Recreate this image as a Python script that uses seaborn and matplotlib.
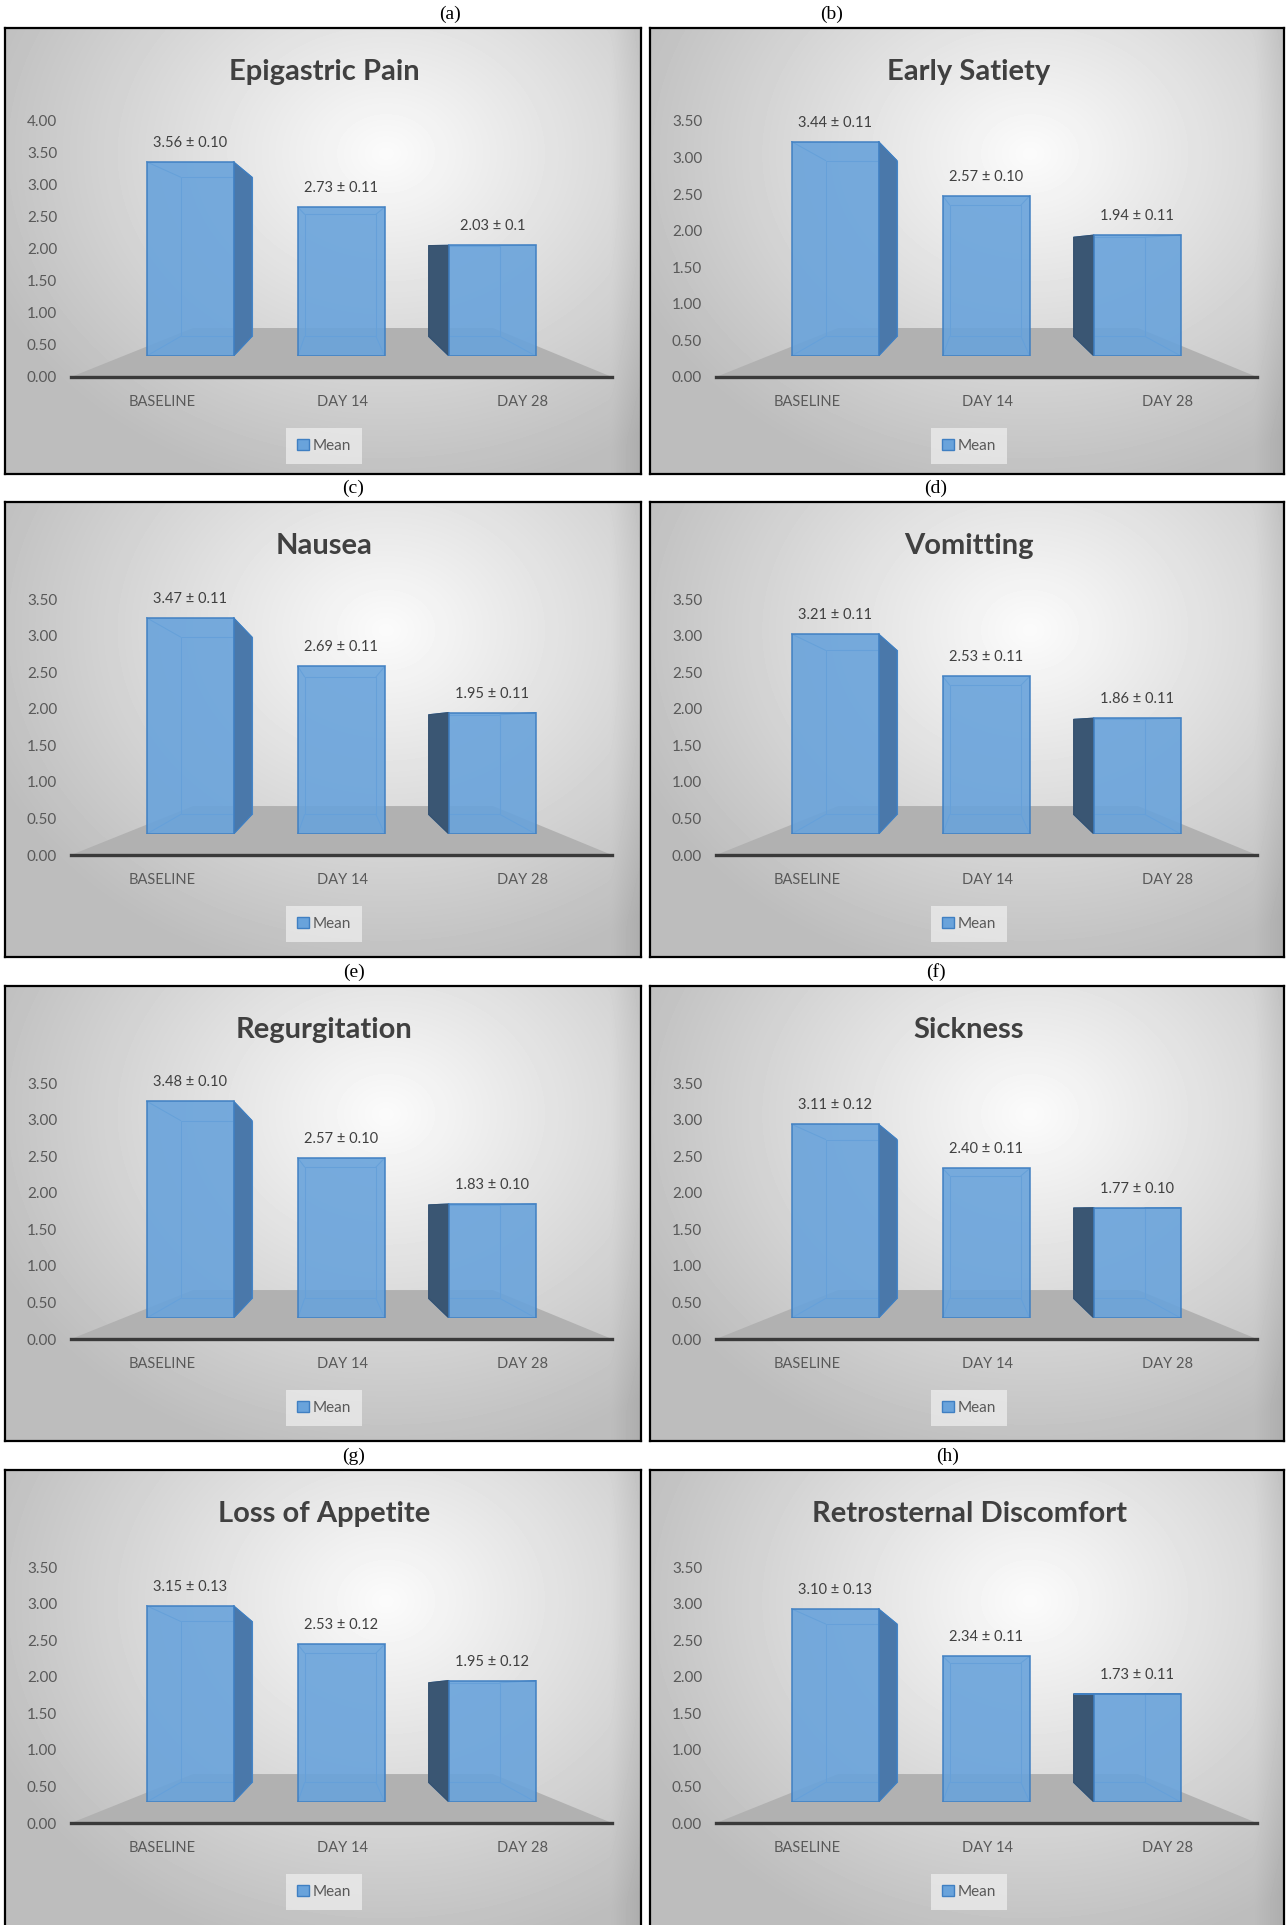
import numpy as np
import matplotlib
matplotlib.use("Agg")
import matplotlib.pyplot as plt
import seaborn as sns
from matplotlib.patches import Polygon, Patch

sns.set_theme(style="white")
plt.rcParams["font.family"] = ["Lato", "DejaVu Sans"]

# data
categories = ["BASELINE", "DAY 14", "DAY 28"]
panel_tags = ["(a)", "(b)", "(c)", "(d)", "(e)", "(f)", "(g)", "(h)"]
titles = ["Epigastric Pain", "Early Satiety", "Nausea", "Vomitting",
          "Regurgitation", "Sickness", "Loss of Appetite", "Retrosternal Discomfort"]

epigastric_pain = [3.56, 2.73, 2.03]
early_satiety = [3.44, 2.57, 1.94]
nausea = [3.47, 2.69, 1.95]
vomitting = [3.21, 2.53, 1.86]
regurgitation = [3.48, 2.57, 1.83]
sickness = [3.11, 2.40, 1.77]
loss_of_appetite = [3.15, 2.53, 1.95]
retrosternal = [3.10, 2.34, 1.73]

epigastric_pain_se = ["0.10", "0.11", "0.1"]
early_satiety_se = ["0.11", "0.10", "0.11"]
nausea_se = ["0.11", "0.11", "0.11"]
vomitting_se = ["0.11", "0.11", "0.11"]
regurgitation_se = ["0.10", "0.10", "0.10"]
sickness_se = ["0.12", "0.11", "0.10"]
loss_of_appetite_se = ["0.13", "0.12", "0.12"]
retrosternal_se = ["0.13", "0.11", "0.11"]

y_max = [4.0, 3.5, 3.5, 3.5, 3.5, 3.5, 3.5, 3.5]

means = [epigastric_pain, early_satiety, nausea, vomitting,
         regurgitation, sickness, loss_of_appetite, retrosternal]
sems = [epigastric_pain_se, early_satiety_se, nausea_se, vomitting_se,
        regurgitation_se, sickness_se, loss_of_appetite_se, retrosternal_se]

# page layout in pixels (top-left origin)
FW, FH = 1286, 1925
col_left = [5, 650]
col_width = [636, 634]
row_top = [28, 502, 986, 1470]
row_height = [446, 455, 455, 455]
tag_x = [[450, 832], [353, 936], [354, 936], [354, 948]]

BAR_COL = "#69a3db"
BAR_EDGE = "#3f7fc2"
INNER_COL = "#4f8dcc"
SIDE_RIGHT = "#4a78aa"
SIDE_LEFT = "#3a5673"
TEXT_COL = "#404040"
TICK_COL = "#595959"


def frect(x0, y0, x1, y1):
    return [x0 / FW, 1 - y1 / FH, (x1 - x0) / FW, (y1 - y0) / FH]


def draw_panel(fig, L, T, W, H, title, vals, se, ymax, extra=0):
    axis0 = T + 349 + 0.45 * (H - 446)

    # background with radial gradient and frame
    bg = fig.add_axes(frect(L, T, L + W, T + H + extra), zorder=0)
    yy, xx = np.mgrid[0:1:120j, 0:1:160j]
    r = np.sqrt((xx - 0.6) ** 2 + ((yy - 0.28) / 1.15) ** 2)
    g = np.clip(0.985 - 0.36 * r, 0.74, 1)
    g[:, -8:] -= np.linspace(0, 0.06, 8)
    bg.imshow(g, cmap="gray", vmin=0, vmax=1, aspect="auto",
              extent=(L, L + W, T + H + extra, T), interpolation="bicubic")
    bg.set_xlim(L, L + W)
    bg.set_ylim(T + H + extra, T)
    bg.set_xticks([])
    bg.set_yticks([])
    for s in bg.spines.values():
        s.set_color("black")
        s.set_linewidth(1.6)

    # floor
    floor = Polygon([(L + 66, axis0), (L + 607, axis0),
                     (L + 488, axis0 - 49), (L + 188, axis0 - 49)],
                    closed=True, facecolor="#b1b1b1", edgecolor="none")
    bg.add_patch(floor)
    bg.text(L + 319, T + 44, title, ha="center", va="center", fontsize=21,
            fontweight="bold", color=TEXT_COL)

    # value axis
    av = fig.add_axes(frect(L + 66, axis0 - 256, L + 607, axis0), zorder=1)
    av.patch.set_visible(False)
    av.set_ylim(0, ymax)
    av.set_yticks(np.arange(0, ymax + 0.01, 0.5))
    av.set_yticklabels([f"{v:.2f}" for v in np.arange(0, ymax + 0.01, 0.5)])
    av.tick_params(axis="y", length=0, pad=10, labelsize=11, labelcolor=TICK_COL)
    av.set_xlim(L + 66, L + 607)
    for k in ["top", "right", "left"]:
        av.spines[k].set_visible(False)
    av.spines["bottom"].set_color("#3a3a3a")
    av.spines["bottom"].set_linewidth(2.4)

    # bars (front plane)
    bx0, bx1 = L + 109.5, L + 563
    bbot = axis0 - 21
    scale = 0.852 * 256 / ymax
    ab = fig.add_axes(frect(bx0, axis0 - 256, bx1, bbot), zorder=2)
    sns.barplot(x=categories, y=vals, ax=ab, color=BAR_COL, saturation=1,
                width=0.575, edgecolor=BAR_EDGE, linewidth=1.2, alpha=0.9, zorder=3)
    ab.set_xlim(-0.5, 2.5)
    ab.set_ylim(0, (256 - 21) / scale)
    ab.axis("off")

    vpx = -0.5 + (331 - 109.5) / (bx1 - bx0) * 3
    vpy = 109 / scale
    t = 0.18

    def back(p):
        return (p[0] + (vpx - p[0]) * t, p[1] + (vpy - p[1]) * t)

    px_per_cat = (bx1 - bx0) / 3
    label_px = []
    for p, v, s in zip(ab.patches, vals, se):
        x0 = p.get_x()
        x1 = x0 + p.get_width()
        y0 = p.get_y()
        y1 = y0 + p.get_height()
        fr = [(x0, y0), (x1, y0), (x1, y1), (x0, y1)]
        bk = [back(q) for q in fr]
        ab.add_patch(Polygon(bk, closed=True, fill=False, edgecolor=INNER_COL,
                             linewidth=0.8, zorder=2))
        for a_, b_ in zip(fr, bk):
            ab.plot([a_[0], b_[0]], [a_[1], b_[1]], color=INNER_COL, lw=0.8, zorder=2)
        if x1 < vpx:
            ab.add_patch(Polygon([fr[1], fr[2], bk[2], bk[1]], closed=True,
                                 facecolor=SIDE_RIGHT, edgecolor=BAR_EDGE,
                                 linewidth=0.8, zorder=2.5))
        if x0 > vpx:
            ab.add_patch(Polygon([fr[0], fr[3], bk[3], bk[0]], closed=True,
                                 facecolor=SIDE_LEFT, edgecolor="#34506e",
                                 linewidth=0.8, zorder=2.5))
        if y1 < vpy:
            ab.add_patch(Polygon([fr[3], fr[2], bk[2], bk[3]], closed=True,
                                 facecolor="#8dbbe6", edgecolor=BAR_EDGE,
                                 linewidth=0.8, zorder=2.5))
        xc = (x0 + x1) / 2
        ab.text(xc, y1 + 19 / scale, f"{v:.2f} \u00b1 {s}", ha="center",
                va="center", fontsize=10.5, color=TEXT_COL, zorder=5)
        cpx = bx0 + (xc + 0.5) * px_per_cat
        label_px.append(L + 331 + (cpx - (L + 331)) * 1.19)

    av.set_xticks(label_px)
    av.set_xticklabels(categories)
    av.tick_params(axis="x", length=0, pad=13, labelsize=10.5, labelcolor=TICK_COL)

    leg = ab.legend(handles=[Patch(facecolor=BAR_COL, edgecolor=BAR_EDGE, label="Mean")],
                    loc="center",
                    bbox_to_anchor=((L + 319) / FW, 1 - (axis0 + 69) / FH),
                    bbox_transform=fig.transFigure, frameon=True,
                    facecolor="#ebebeb", edgecolor="none", framealpha=0.8,
                    handlelength=0.75, handleheight=0.75, handletextpad=0.25,
                    borderpad=0.7, fontsize=11, fancybox=False)
    for txt in leg.get_texts():
        txt.set_color(TICK_COL)


fig = plt.figure(figsize=(FW / 100, FH / 100), dpi=100)

for i in range(8):
    row, col = divmod(i, 2)
    L = col_left[col]
    T = row_top[row]
    extra = 10 if row == 3 else 0
    draw_panel(fig, L, T, col_width[col], row_height[row], titles[i],
               means[i], sems[i], y_max[i], extra=extra)
    fig.text(tag_x[row][col] / FW, 1 - (T - 14) / FH, panel_tags[i],
             ha="center", va="center", fontsize=14,
             family=["Liberation Serif", "DejaVu Serif"], color="black")

fig.savefig("out.png", dpi=100, facecolor="white")
